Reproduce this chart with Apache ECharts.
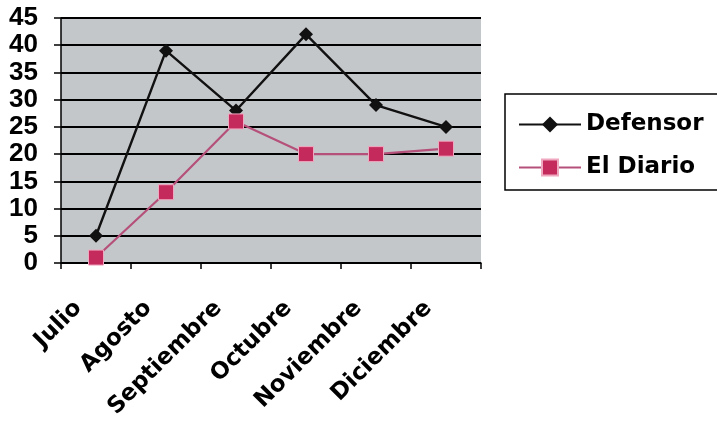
<!DOCTYPE html>
<html><head><meta charset="utf-8">
<script src="https://cdn.jsdelivr.net/npm/echarts@6/dist/echarts.min.js"></script>
<style>html,body{margin:0;padding:0;background:#fff}#c{width:717px;height:426px}</style>
</head><body><div id="c"></div>
<script>
const categories = ['Julio','Agosto','Septiembre','Octubre','Noviembre','Diciembre'];
const defensor = [5, 39, 28, 42, 29, 25];
const elDiario = [1, 13, 26, 20, 20, 21];
const chart = echarts.init(document.getElementById('c'));
chart.setOption({
  animation: false,
  backgroundColor: '#ffffff',
  grid: { left: 61, right: 236, top: 18, bottom: 163, show: true, backgroundColor: '#c4c7ca', borderWidth: 0 },
  xAxis: {
    type: 'category', data: categories, boundaryGap: true,
    axisLine: { lineStyle: { color: '#000', width: 1.5 } },
    axisTick: { show: true, length: 6, lineStyle: { color: '#000', width: 1.5 } },
    axisLabel: { rotate: 45, margin: 24, padding: [0, 25, 0, 0], fontSize: 23, fontWeight: 'bold', color: '#000', fontFamily: 'DejaVu Sans' }
  },
  yAxis: {
    type: 'value', min: 0, max: 45, interval: 5,
    axisLine: { show: true, lineStyle: { color: '#000', width: 1.5 } },
    axisTick: { show: true, length: 7, lineStyle: { color: '#000', width: 1.5 } },
    splitLine: { lineStyle: { color: '#000', width: 2 } },
    axisLabel: { fontSize: 26, fontWeight: 'bold', color: '#000', margin: 23, fontFamily: 'Liberation Sans' }
  },
  legend: {
    orient: 'vertical', left: 513, top: 108, itemGap: 20,
    itemWidth: 62, itemHeight: 20,
    textStyle: { fontSize: 23, fontWeight: 'bold', color: '#000', fontFamily: 'DejaVu Sans' },
    data: ['Defensor', 'El Diario']
  },
  graphic: [{ type: 'rect', shape: { x: 505, y: 94, width: 240, height: 96 }, style: { fill: 'none', stroke: '#000', lineWidth: 1.5 } }],
  series: [
    { name: 'Defensor', type: 'line', data: defensor, symbol: 'diamond', symbolSize: 14,
      lineStyle: { color: '#111', width: 2.4 }, itemStyle: { color: '#111' } },
    { name: 'El Diario', type: 'line', data: elDiario, symbol: 'rect', symbolSize: 15,
      lineStyle: { color: '#b5507a', width: 2.2 }, itemStyle: { color: '#c42a5c', borderColor: '#f0a8c0', borderWidth: 1 } }
  ]
});
</script></body></html>
